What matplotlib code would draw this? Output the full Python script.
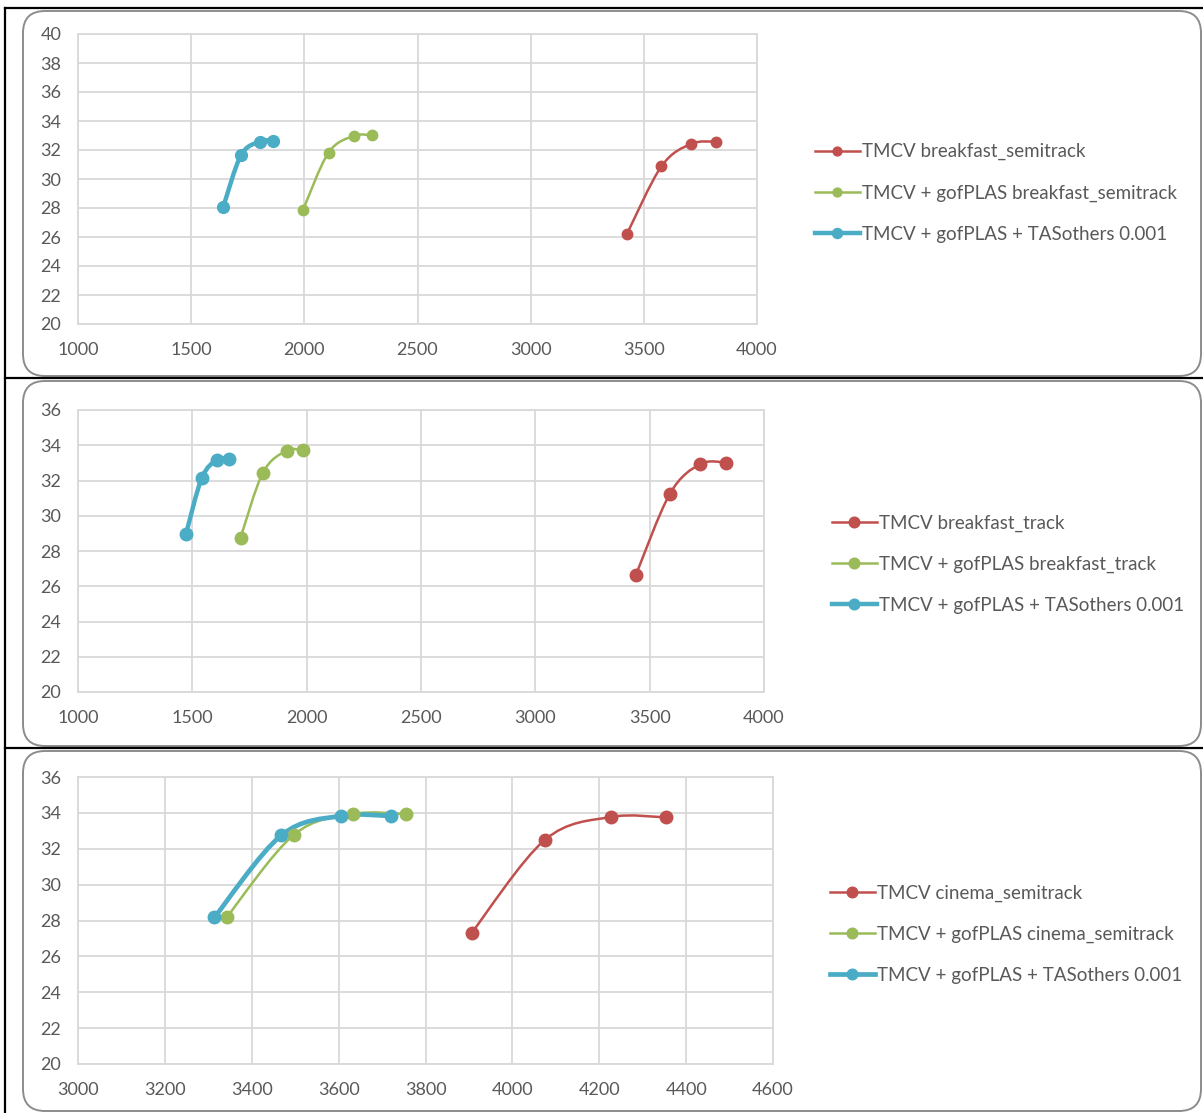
import numpy as np
import matplotlib
matplotlib.use('Agg')
import matplotlib.pyplot as plt
from matplotlib.path import Path
from matplotlib.patches import PathPatch, FancyBboxPatch
from matplotlib.lines import Line2D

plt.rcParams['font.family'] = ['Lato', 'DejaVu Sans']

RED = '#C0504D'
GREEN = '#9BBB59'
BLUE = '#4BACC6'
TXT = '#595959'
GRID = '#D9D9D9'

# panel 1: breakfast_semitrack
p1_red_x = [3425, 3578, 3709, 3817]
p1_red_y = [26.2, 30.88, 32.42, 32.58]
p1_green_x = [1994, 2107, 2219, 2300]
p1_green_y = [27.86, 31.82, 32.97, 33.02]
p1_blue_x = [1642, 1721, 1805, 1861]
p1_blue_y = [28.09, 31.66, 32.58, 32.65]
p1_labels = ['TMCV breakfast_semitrack',
             'TMCV + gofPLAS breakfast_semitrack',
             'TMCV + gofPLAS + TASothers 0.001']

# panel 2: breakfast_track
p2_red_x = [3439, 3589, 3721, 3833]
p2_red_y = [26.62, 31.26, 32.93, 33.02]
p2_green_x = [1711, 1809, 1912, 1986]
p2_green_y = [28.76, 32.45, 33.69, 33.72]
p2_blue_x = [1472, 1541, 1608, 1660]
p2_blue_y = [28.95, 32.13, 33.18, 33.21]
p2_labels = ['TMCV breakfast_track',
             'TMCV + gofPLAS breakfast_track',
             'TMCV + gofPLAS + TASothers 0.001']

# panel 3: cinema_semitrack
p3_red_x = [3906, 4075, 4226, 4353]
p3_red_y = [27.3, 32.5, 33.77, 33.75]
p3_green_x = [3342, 3497, 3634, 3754]
p3_green_y = [28.17, 32.78, 33.94, 33.94]
p3_blue_x = [3314, 3468, 3605, 3720]
p3_blue_y = [28.17, 32.75, 33.83, 33.83]
p3_labels = ['TMCV cinema_semitrack',
             'TMCV + gofPLAS cinema_semitrack',
             'TMCV + gofPLAS + TASothers 0.001']

W, H = 1203, 1113
fig = plt.figure(figsize=(W / 100, H / 100), dpi=100)
fig.patch.set_facecolor('white')


def smooth_path(x, y):
    # excel-like smoothed line: bezier segments through the points
    pts = np.column_stack([x, y]).astype(float)
    n = len(pts)
    verts = [pts[0]]
    codes = [Path.MOVETO]
    for i in range(n - 1):
        p0 = pts[i - 1] if i > 0 else pts[i]
        p1 = pts[i]
        p2 = pts[i + 1]
        p3 = pts[i + 2] if i + 2 < n else pts[i + 1]
        c1 = p1 + (p2 - p0) / 6.0
        c2 = p2 - (p3 - p1) / 6.0
        verts += [c1, c2, p2]
        codes += [Path.CURVE4] * 3
    return Path(verts, codes)


def px_axes(left, top, right, bottom):
    return fig.add_axes([left / W, 1 - bottom / H, (right - left) / W, (bottom - top) / H])


def panel(box, xlim, xstep, ylim, series, labels, leg_xy, msizes, lws):
    ax = px_axes(*box)
    ax.set_xlim(*xlim)
    ax.set_ylim(*ylim)
    ax.set_xticks(np.arange(xlim[0], xlim[1] + 1, xstep))
    ax.set_yticks(np.arange(ylim[0], ylim[1] + 1, 2))
    ax.grid(True, color=GRID, lw=1.3)
    ax.set_axisbelow(True)
    for s in ax.spines.values():
        s.set_color(GRID)
        s.set_linewidth(1.3)
    ax.tick_params(length=0, labelsize=13, labelcolor=TXT)
    ax.tick_params(axis='x', pad=13)
    ax.tick_params(axis='y', pad=12)
    handles = []
    for (xs, ys, c), ms, lw in zip(series, msizes, lws):
        ax.add_patch(PathPatch(smooth_path(xs, ys), fill=False, edgecolor=c,
                               lw=lw, capstyle='round', zorder=3))
        ax.plot(xs, ys, 'o', color=c, ms=ms, zorder=4, clip_on=False)
        handles.append(Line2D([], [], color=c, lw=lw, marker='o', ms=ms * 0.85))
    fig.legend(handles, labels, loc='center left',
               bbox_to_anchor=(leg_xy[0] / W, 1 - leg_xy[1] / H),
               frameon=False, fontsize=13.5, labelcolor=TXT, handlelength=2.4,
               handletextpad=0.15, labelspacing=1.28, borderaxespad=0)
    return ax


panel((78, 34, 757, 324), (1000, 4000), 500, (20, 40),
      [(p1_red_x, p1_red_y, RED), (p1_green_x, p1_green_y, GREEN),
       (p1_blue_x, p1_blue_y, BLUE)],
      p1_labels, (807, 193), [7.5, 7.5, 8.5], [1.8, 1.8, 3.2])

panel((78, 410, 764, 692), (1000, 4000), 500, (20, 36),
      [(p2_red_x, p2_red_y, RED), (p2_green_x, p2_green_y, GREEN),
       (p2_blue_x, p2_blue_y, BLUE)],
      p2_labels, (824, 564), [9, 9, 9], [1.8, 1.8, 3.2])

panel((78, 777, 773, 1064), (3000, 4600), 200, (20, 36),
      [(p3_red_x, p3_red_y, RED), (p3_green_x, p3_green_y, GREEN),
       (p3_blue_x, p3_blue_y, BLUE)],
      p3_labels, (822, 934), [9, 9, 9], [1.8, 1.8, 3.4])

# frame layer: table lines and rounded chart borders, in pixel units
frame = fig.add_axes([0, 0, 1, 1], zorder=10)
frame.set_xlim(0, W)
frame.set_ylim(H, 0)
frame.axis('off')
frame.patch.set_alpha(0)
for top, bottom in [(11, 376), (381, 746), (751, 1111)]:
    frame.add_patch(FancyBboxPatch((23, top), 1178, bottom - top,
                                   boxstyle='round,pad=0,rounding_size=22',
                                   fill=False, edgecolor='#8C8C8C', lw=1.4))
for y in [8, 378, 748]:
    frame.plot([5, W], [y, y], color='black', lw=1.6)
frame.plot([5, 5], [8, H], color='black', lw=1.6)

fig.savefig('out.png', dpi=100, facecolor='white')
